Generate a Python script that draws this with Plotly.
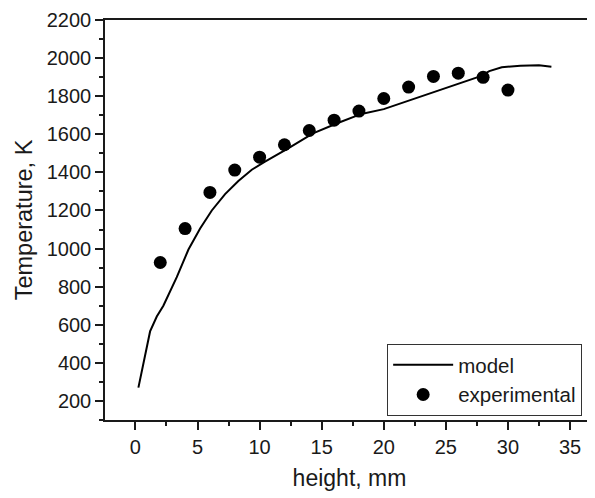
import plotly.graph_objects as go

# Model curve (height mm, temperature K)
model_x = [0.24, 1.18, 1.72, 2.25, 3.33, 4.27, 5.21, 6.15, 7.22, 8.29, 9.37, 10.4,
           12.3, 14.3, 16.3, 18.2, 20.0, 22.4, 25.0, 27.75, 28.5, 29.5, 31.0, 32.5, 33.5]
model_y = [270, 565, 643, 700, 850, 995, 1105, 1200, 1286, 1355, 1414, 1455,
           1526, 1605, 1659, 1707, 1732, 1785, 1843, 1904, 1932, 1952, 1960, 1962, 1955]

# Experimental points
exp_x = [2, 4, 6, 8, 10, 12, 14, 16, 18, 20, 22, 24, 26, 28, 30]
exp_y = [927, 1105, 1295, 1412, 1480, 1545, 1620, 1674, 1722, 1788, 1848, 1904, 1921, 1899, 1832]

FONT = "Arial, Liberation Sans, sans-serif"
INK = "#1a1a1a"

fig = go.Figure()
fig.add_trace(go.Scatter(x=model_x, y=model_y, mode="lines", name="model",
                         line=dict(color="black", width=2)))
fig.add_trace(go.Scatter(x=exp_x, y=exp_y, mode="markers", name="experimental",
                         marker=dict(color="black", size=13)))

# page body has an 8px default margin, so the figure is sized/placed to compensate
fig.update_layout(
    width=587, height=490,
    margin=dict(l=97, r=1, t=7, b=78),
    paper_bgcolor="white", plot_bgcolor="white",
    font=dict(family=FONT, color=INK, size=20),
    showlegend=True,
    legend=dict(x=0.577, y=0.19, xanchor="left", yanchor="top",
                bordercolor="#333", borderwidth=1, bgcolor="white",
                font=dict(size=20.5, family=FONT, color=INK),
                itemwidth=60, tracegroupgap=0),
)
fig.update_xaxes(
    range=[-2.45, 36.93], showgrid=False, zeroline=False,
    showline=True, linecolor=INK, linewidth=1.5, mirror=True,
    ticks="outside", ticklen=8, tickwidth=1.5, tickcolor=INK,
    tick0=0, dtick=5, ticklabeloverflow="allow",
    minor=dict(ticks="outside", ticklen=4, tickwidth=1.5, tickcolor=INK, dtick=2.5, tick0=0, showgrid=False),
    tickfont=dict(size=20, family=FONT, color=INK),
    title=dict(text="height, mm", font=dict(size=23, family=FONT, color=INK), standoff=13),
)
fig.update_yaxes(
    range=[100, 2200], showgrid=False, zeroline=False,
    showline=True, linecolor=INK, linewidth=1.5, mirror=False,
    ticks="outside", ticklen=8, tickwidth=1.5, tickcolor=INK,
    tick0=0, dtick=200, ticklabeloverflow="allow",
    minor=dict(ticks="outside", ticklen=4, tickwidth=1.5, tickcolor=INK, dtick=100, tick0=0, showgrid=False),
    tickfont=dict(size=20, family=FONT, color=INK),
    title=dict(text="Temperature, K", font=dict(size=23.5, family=FONT, color=INK), standoff=8),
)

fig.write_html("out.html")
